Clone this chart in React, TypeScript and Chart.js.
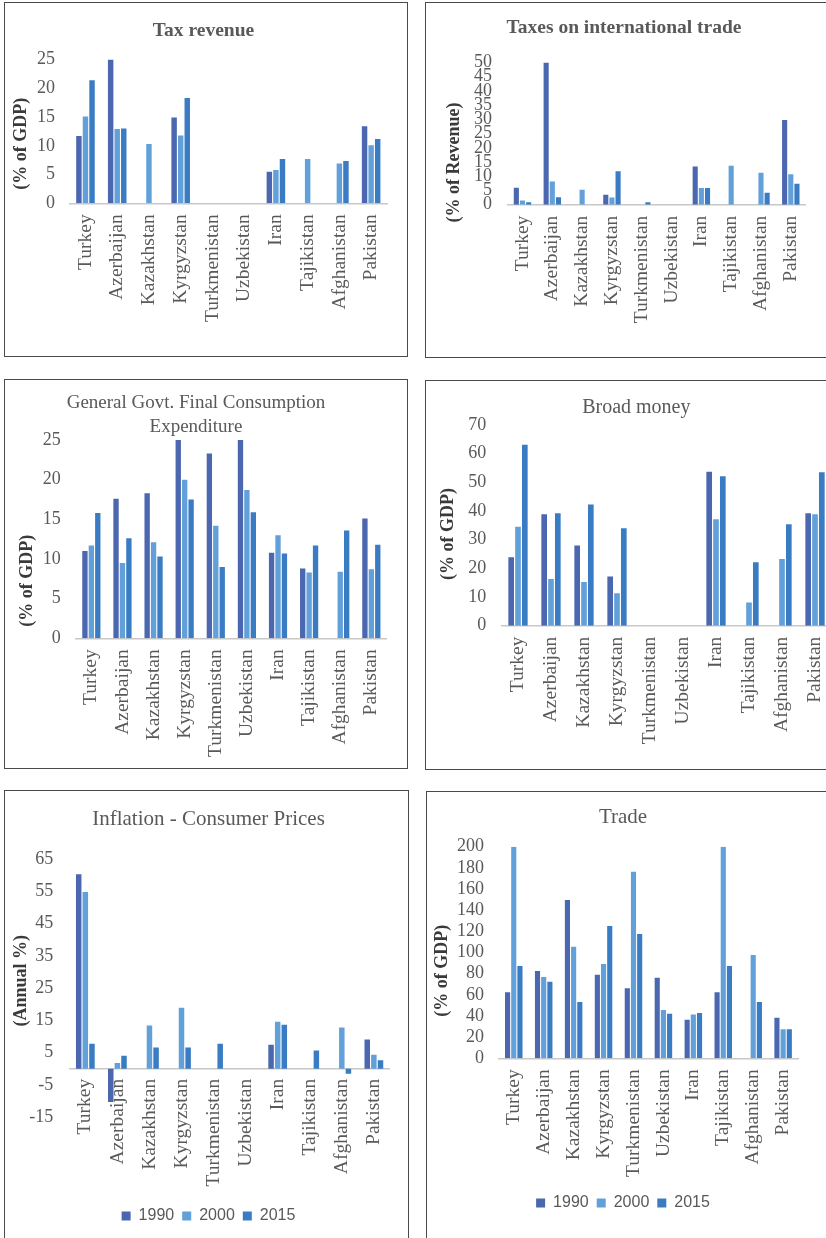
import React, { useEffect, useRef } from "react";
import { Chart, registerables } from "chart.js";

Chart.register(...registerables);

// ---- data -------------------------------------------------------------
const countries = [
  "Turkey",
  "Azerbaijan",
  "Kazakhstan",
  "Kyrgyzstan",
  "Turkmenistan",
  "Uzbekistan",
  "Iran",
  "Tajikistan",
  "Afghanistan",
  "Pakistan",
];
const years = ["1990", "2000", "2015"];
const yearColors = ["#4A67AF", "#62A0D9", "#3A7CC3"];

type Val = number | null;

// Tax revenue (% of GDP)
const taxRevenue1990: Val[] = [11.7, 25, null, 14.9, null, null, 5.5, null, null, 13.4];
const taxRevenue2000: Val[] = [15.1, 12.9, 10.3, 11.8, null, null, 5.8, 7.7, 6.9, 10.1];
const taxRevenue2015: Val[] = [21.4, 13.0, null, 18.3, null, null, 7.7, null, 7.35, 11.2];

// Taxes on international trade (% of revenue)
const tradeTax1990: Val[] = [6.0, 50, null, 3.5, null, null, 13.4, null, null, 29.8];
const tradeTax2000: Val[] = [1.5, 8.2, 5.3, 2.5, null, null, 5.9, 13.7, 11.2, 10.7];
const tradeTax2015: Val[] = [0.9, 2.6, null, 11.8, 0.9, null, 5.9, null, 4.2, 7.4];

// General government final consumption expenditure (% of GDP)
const govtSpend1990: Val[] = [11.0, 17.6, 18.3, 25, 23.3, 25, 10.8, 8.8, null, 15.1];
const govtSpend2000: Val[] = [11.7, 9.5, 12.1, 20.0, 14.2, 18.7, 13.0, 8.3, 8.4, 8.7];
const govtSpend2015: Val[] = [15.8, 12.6, 10.3, 17.5, 9.0, 15.9, 10.7, 11.7, 13.6, 11.8];

// Broad money (% of GDP)
const broadMoney1990: Val[] = [23.9, 38.9, 28.0, 17.2, null, null, 53.7, null, null, 39.2];
const broadMoney2000: Val[] = [34.5, 16.3, 15.2, 11.3, null, null, 37.1, 8.1, 23.3, 38.9];
const broadMoney2015: Val[] = [63.1, 39.2, 42.3, 34.0, null, null, 52.1, 22.1, 35.4, 53.5];

// Inflation, consumer prices (annual %)
const inflation1990: Val[] = [60.3, -10.3, null, null, null, null, 7.5, null, null, 9.1];
const inflation2000: Val[] = [54.8, 1.8, 13.4, 18.9, null, null, 14.6, null, 12.8, 4.4];
const inflation2015: Val[] = [7.8, 4.1, 6.6, 6.6, 7.8, null, 13.7, 5.7, -1.5, 2.7];

// Trade (% of GDP)
const trade1990: Val[] = [62.4, 82.5, 149.6, 79, 66.1, 76.2, 36.5, 62.4, null, 38.4];
const trade2000: Val[] = [200, 76.9, 105.5, 89.1, 176.4, 45.7, 41.3, 200, 97.6, 27.4];
const trade2015: Val[] = [87.2, 72.4, 53.2, 125, 117.5, 42.2, 42.8, 87.2, 53.2, 27.4];

// value axis ranges: [min, max, step]
const taxRevenueAxis = [0, 25, 5];
const tradeTaxAxis = [0, 50, 5];
const govtSpendAxis = [0, 25, 5];
const broadMoneyAxis = [0, 70, 10];
const inflationAxis = [-15, 65, 10];
const tradeAxis = [0, 200, 20];

// ---- styling ----------------------------------------------------------
const SERIF = '"Liberation Serif", "Times New Roman", serif';
const SANS = '"Liberation Sans", Arial, sans-serif';
const TEXT_GRAY = "#595959";
const CAPTION = "#3a3a3a";

type Frame = { left: number; top: number; width: number; height: number };

type PanelSpec = {
  frame: Frame;
  title: string | string[];
  titleSize: number;
  titleBold: boolean;
  titleLineHeight: number;
  titlePad: [number, number];
  caption: string;
  captionAt: [number, number];
  series: Val[][];
  axis: number[];
  pad: { left: number; right: number; top: number; bottom: number };
  yWidth: number;
  yTickPad: number;
  xHeight: number;
  xTickPad: number;
  zeroAxis?: boolean;
  legend?: boolean;
  legendSpacer?: number;
};

const panels: PanelSpec[] = [
  {
    frame: { left: 4, top: 2, width: 404, height: 355 },
    title: "Tax revenue",
    titleSize: 19.5,
    titleBold: true,
    titleLineHeight: 1.2,
    titlePad: [16.3, 16.8],
    caption: "(% of GDP)",
    captionAt: [16, 140.8],
    series: [taxRevenue1990, taxRevenue2000, taxRevenue2015],
    axis: taxRevenueAxis,
    pad: { left: 15, right: 20, top: 0, bottom: 0 },
    yWidth: 49.6,
    yTickPad: 14.6,
    xHeight: 152.7,
    xTickPad: 11,
  },
  {
    frame: { left: 425, top: 2, width: 430, height: 356 },
    title: "Taxes on international trade",
    titleSize: 19.5,
    titleBold: true,
    titleLineHeight: 1.2,
    titlePad: [13.6, 22.5],
    caption: "(% of Revenue)",
    captionAt: [28.5, 159.5],
    series: [tradeTax1990, tradeTax2000, tradeTax2015],
    axis: tradeTaxAxis,
    pad: { left: 16.3, right: 48.3, top: 0, bottom: 0 },
    yWidth: 65.3,
    yTickPad: 15.6,
    xHeight: 152.3,
    xTickPad: 11,
  },
  {
    frame: { left: 4, top: 379, width: 404, height: 390 },
    title: ["General Govt. Final Consumption", "Expenditure"],
    titleSize: 19,
    titleBold: false,
    titleLineHeight: 24 / 19,
    titlePad: [11.3, 0.7],
    caption: "(% of GDP)",
    captionAt: [22.5, 200.8],
    series: [govtSpend1990, govtSpend2000, govtSpend2015],
    axis: govtSpendAxis,
    pad: { left: 0, right: 20.1, top: 0, bottom: 0 },
    yWidth: 70.8,
    yTickPad: 15.1,
    xHeight: 129.7,
    xTickPad: 11,
  },
  {
    frame: { left: 425, top: 380, width: 430, height: 390 },
    title: "Broad money",
    titleSize: 20,
    titleBold: false,
    titleLineHeight: 1.2,
    titlePad: [15, 5],
    caption: "(% of GDP)",
    captionAt: [22.5, 153],
    series: [broadMoney1990, broadMoney2000, broadMoney2015],
    axis: broadMoneyAxis,
    pad: { left: 15.1, right: 22.5, top: 0, bottom: 0 },
    yWidth: 60.4,
    yTickPad: 15.2,
    xHeight: 143.3,
    xTickPad: 11,
  },
  {
    frame: { left: 4, top: 790, width: 405, height: 460 },
    title: "Inflation - Consumer Prices",
    titleSize: 21,
    titleBold: false,
    titleLineHeight: 1.2,
    titlePad: [15.4, 27.4],
    caption: "(Annual %)",
    captionAt: [16.5, 189.8],
    series: [inflation1990, inflation2000, inflation2015],
    axis: inflationAxis,
    pad: { left: 18.7, right: 14.7, top: 0, bottom: 15 },
    yWidth: 45.6,
    yTickPad: 16,
    xHeight: 0,
    xTickPad: 10,
    zeroAxis: true,
    legend: true,
    legendSpacer: 70.7,
  },
  {
    frame: { left: 426, top: 791, width: 430, height: 460 },
    title: "Trade",
    titleSize: 21,
    titleBold: false,
    titleLineHeight: 1.2,
    titlePad: [12.4, 17.1],
    caption: "(% of GDP)",
    captionAt: [15.5, 178.8],
    series: [trade1990, trade2000, trade2015],
    axis: tradeAxis,
    pad: { left: 20.9, right: 56.9, top: 0, bottom: 29 },
    yWidth: 50.9,
    yTickPad: 14.8,
    xHeight: 128.7,
    xTickPad: 11,
    legend: true,
  },
];

// Rotated value-axis caption drawn at a fixed spot in the canvas.
const sideCaption = {
  id: "sideCaption",
  afterDraw(chart: any, _args: any, opts: any) {
    if (!opts || !opts.text) return;
    const ctx = chart.ctx as CanvasRenderingContext2D;
    ctx.save();
    ctx.translate(opts.x, opts.y);
    ctx.rotate(-Math.PI / 2);
    ctx.font = `bold 18px ${SERIF}`;
    ctx.fillStyle = CAPTION;
    ctx.textAlign = "center";
    ctx.textBaseline = "middle";
    ctx.fillText(opts.text, 0, 0);
    ctx.restore();
  },
};

function buildConfig(spec: PanelSpec): any {
  const [yMin, yMax, yStep] = spec.axis;
  const legendOpts: any = spec.legend
    ? {
        display: true,
        position: "bottom",
        labels: {
          boxWidth: 9,
          boxHeight: 9,
          padding: 8,
          color: TEXT_GRAY,
          font: { family: SANS, size: 16 },
        },
        title: spec.legendSpacer
          ? {
              display: true,
              text: "",
              padding: { top: spec.legendSpacer, bottom: 0 },
              font: { size: 10, lineHeight: 1.2 },
            }
          : { display: false },
      }
    : { display: false };

  return {
    type: "bar",
    data: {
      labels: countries,
      datasets: spec.series.map((data, i) => ({
        label: years[i],
        data,
        backgroundColor: yearColors[i],
        borderWidth: 0,
        categoryPercentage: 0.62,
        barPercentage: 0.83,
      })),
    },
    options: {
      responsive: false,
      animation: false,
      devicePixelRatio: 1,
      events: [],
      layout: { padding: spec.pad },
      plugins: {
        title: {
          display: true,
          text: spec.title,
          color: TEXT_GRAY,
          font: {
            family: SERIF,
            size: spec.titleSize,
            weight: spec.titleBold ? "bold" : "normal",
            lineHeight: spec.titleLineHeight,
          },
          padding: { top: spec.titlePad[0], bottom: spec.titlePad[1] },
        },
        legend: legendOpts,
        tooltip: { enabled: false },
        sideCaption: { text: spec.caption, x: spec.captionAt[0], y: spec.captionAt[1] },
      },
      scales: {
        x: {
          type: "category",
          position: spec.zeroAxis ? { y: 0 } : "bottom",
          grid: { display: false, drawTicks: false },
          border: { display: true, color: "#c8c8c8", width: 1.5 },
          ticks: {
            autoSkip: false,
            minRotation: 90,
            maxRotation: 90,
            padding: spec.xTickPad,
            color: TEXT_GRAY,
            font: { family: SERIF, size: 19.5 },
          },
          afterFit: spec.zeroAxis
            ? undefined
            : (scale: any) => {
                scale.height = spec.xHeight;
              },
        },
        y: {
          type: "linear",
          min: yMin,
          max: yMax,
          grid: { display: false, drawTicks: false },
          border: { display: false },
          ticks: {
            stepSize: yStep,
            autoSkip: false,
            padding: spec.yTickPad,
            color: TEXT_GRAY,
            font: { family: SERIF, size: 18 },
          },
          afterFit: (scale: any) => {
            scale.width = spec.yWidth;
          },
        },
      },
    },
    plugins: [sideCaption],
  };
}

function BarPanel({ spec }: { spec: PanelSpec }) {
  const ref = useRef<HTMLCanvasElement>(null);
  const w = spec.frame.width - 2;
  const h = spec.frame.height - 2;

  useEffect(() => {
    if (!ref.current) return;
    const chart = new Chart(ref.current, buildConfig(spec));
    return () => chart.destroy();
  }, [spec]);

  return (
    <>
      <div
        style={{
          position: "absolute",
          left: spec.frame.left,
          top: spec.frame.top,
          width: spec.frame.width,
          height: spec.frame.height,
          border: "1px solid #4a4a4a",
          boxSizing: "border-box",
        }}
      />
      <canvas
        ref={ref}
        width={w}
        height={h}
        style={{
          position: "absolute",
          left: spec.frame.left + 1,
          top: spec.frame.top + 1,
          width: w,
          height: h,
        }}
      />
    </>
  );
}

export default function App() {
  return (
    <div
      style={{
        position: "fixed",
        left: 0,
        top: 0,
        width: 826,
        height: 1238,
        overflow: "hidden",
        background: "#ffffff",
      }}
    >
      {panels.map((p, i) => (
        <BarPanel key={i} spec={p} />
      ))}
    </div>
  );
}
